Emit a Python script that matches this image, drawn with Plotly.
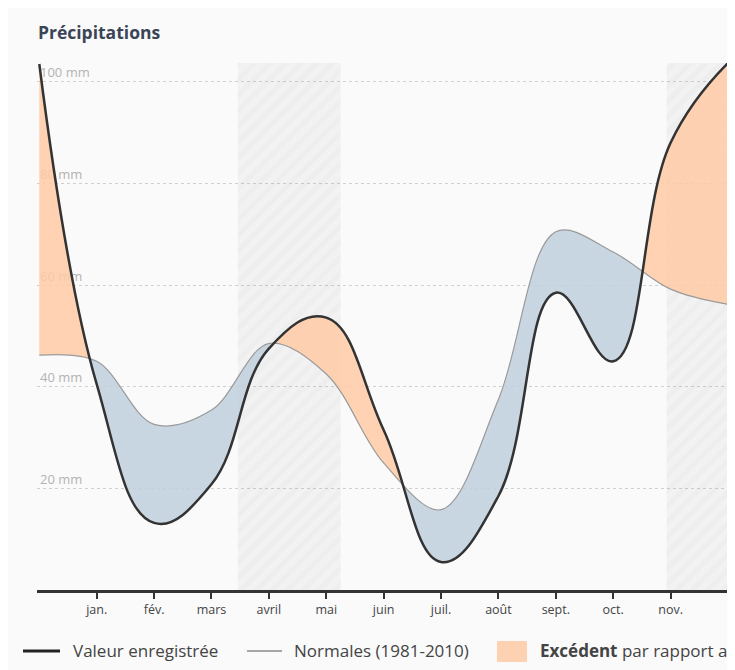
import numpy as np
import plotly.graph_objects as go

# ---------------- data ----------------
months = ["jan.", "fév.", "mars", "avril", "mai", "juin", "juil.", "août",
          "sept.", "oct.", "nov."]
month_pos = list(range(1, 12))
x_pos = list(range(13))          # déc. (précédent) ... déc.
recorded = [103.5, 40.5, 13.2, 20.8, 47.5, 53.6, 31.5, 5.5, 18.5, 58.5, 45.0, 88.0, 103.7]
normals = [46.2, 45.0, 32.6, 35.4, 48.5, 42.5, 25.0, 15.8, 37.5, 70.5, 66.5, 59.2, 56.2]
hatched = [(3.46, 5.25), (10.93, 12.0)]
y_ticks = [20, 40, 60, 80, 100]
y_labels = [f"{v} mm" for v in y_ticks]
y_max = 103.7
x_min, x_max = -0.04, 12.0

# ---------------- layout geometry ----------------
W, H = 727, 662
ML, MR, MT, MB = 29, 7, 55, 80
PW, PH = W - ML - MR, H - MT - MB
SMOOTH_R, SMOOTH_N = 1.2, 1.0

ORANGE = "rgba(255,203,165,0.85)"
BLUE = "rgba(192,208,222,0.85)"
ORANGE_SOLID = "#fdd2b2"
FONT = "Open Sans"


def fx(px):
    return (px - ML) / PW


def fy(py):
    return (H - MB - py) / PH


# --- emulate plotly spline to find where the two curves cross ---
def spline_samples(xs, ys, s=1.0):
    sx = PW / (x_max - x_min)
    sy = PH / y_max
    pts = [((x - x_min) * sx, y * sy) for x, y in zip(xs, ys)]

    def tangent(p0, p1, p2):
        d1x, d1y = p0[0] - p1[0], p0[1] - p1[1]
        d2x, d2y = p2[0] - p1[0], p2[1] - p1[1]
        d1a = (d1x * d1x + d1y * d1y) ** 0.25
        d2a = (d2x * d2x + d2y * d2y) ** 0.25
        numx = (d2a * d2a * d1x - d1a * d1a * d2x) * s
        numy = (d2a * d2a * d1y - d1a * d1a * d2y) * s
        den1 = 3 * d2a * (d1a + d2a)
        den2 = 3 * d1a * (d1a + d2a)
        return ((p1[0] + numx / den1, p1[1] + numy / den1),
                (p1[0] - numx / den2, p1[1] - numy / den2))

    tans = [tangent(pts[i - 1], pts[i], pts[i + 1]) for i in range(1, len(pts) - 1)]
    t = np.linspace(0, 1, 400)[:, None]
    out = []

    def quad(a, b, c):
        a, b, c = map(np.array, (a, b, c))
        return (1 - t) ** 2 * a + 2 * (1 - t) * t * b + t ** 2 * c

    def cub(a, b, c, d):
        a, b, c, d = map(np.array, (a, b, c, d))
        return (1 - t) ** 3 * a + 3 * (1 - t) ** 2 * t * b + 3 * (1 - t) * t ** 2 * c + t ** 3 * d

    out.append(quad(pts[0], tans[0][0], pts[1]))
    for i in range(2, len(pts) - 1):
        out.append(cub(pts[i - 1], tans[i - 2][1], tans[i - 1][0], pts[i]))
    out.append(quad(pts[-2], tans[-1][1], pts[-1]))
    arr = np.vstack(out)
    order = np.argsort(arr[:, 0])
    return arr[order, 0] / sx + x_min, arr[order, 1] / sy


rx, ry = spline_samples(x_pos, recorded, SMOOTH_R)
nx, ny = spline_samples(x_pos, normals, SMOOTH_N)
grid = np.linspace(x_pos[0], x_pos[-1], 4000)
diff = np.interp(grid, rx, ry) - np.interp(grid, nx, ny)
span = x_pos[-1] - x_pos[0]
stops = []
sign = diff[0] > 0
stops.append([0.0, ORANGE if sign else BLUE])
for i in range(1, len(grid)):
    s_now = diff[i] > 0
    if s_now != sign:
        f = (grid[i] - x_pos[0]) / span
        stops.append([f, ORANGE if sign else BLUE])
        stops.append([f, ORANGE if s_now else BLUE])
        sign = s_now
stops.append([1.0, ORANGE if sign else BLUE])

fig = go.Figure()

# hatched periods (underneath)
for a, b in hatched:
    fig.add_trace(go.Scatter(x=[a, b, b, a, a], y=[0, 0, y_max, y_max, 0],
                             mode="lines", fill="toself", line=dict(width=0),
                             fillcolor="rgba(0,0,0,0)",
                             fillpattern=dict(shape="/", size=11, solidity=0.45,
                                              fgcolor="rgba(120,120,120,0.10)",
                                              bgcolor="rgba(120,120,120,0.06)"),
                             hoverinfo="skip", showlegend=False))

# fill between normals and recorded
fig.add_trace(go.Scatter(x=x_pos, y=normals, mode="lines",
                         line=dict(shape="spline", smoothing=SMOOTH_N, width=0,
                                   color="#c9d6e2"),
                         hoverinfo="skip", showlegend=False))
fig.add_trace(go.Scatter(x=x_pos, y=recorded, mode="lines", fill="tonexty",
                         line=dict(shape="spline", smoothing=SMOOTH_R, width=0,
                                   color=ORANGE_SOLID),
                         fillgradient=dict(type="horizontal", colorscale=stops,
                                           start=x_pos[0], stop=x_pos[-1]),
                         hoverinfo="skip", showlegend=False))

# lines
fig.add_trace(go.Scatter(x=x_pos, y=normals, mode="lines",
                         line=dict(shape="spline", smoothing=SMOOTH_N, width=1.2,
                                   color="#9a9a9a"),
                         hoverinfo="skip", showlegend=False))
fig.add_trace(go.Scatter(x=x_pos, y=recorded, mode="lines", cliponaxis=False,
                         line=dict(shape="spline", smoothing=SMOOTH_R, width=2.5,
                                   color="#333333"),
                         hoverinfo="skip", showlegend=False))

shapes = []
annotations = []

# title
annotations.append(dict(text="<b>Précipitations</b>", xref="paper", yref="paper",
                        x=fx(28), y=fy(24), xanchor="left", yanchor="middle",
                        showarrow=False, font=dict(family=FONT, size=17.5, color="#3a4556")))

# legend (custom)
ly = 643
LFS = 17
shapes.append(dict(type="line", xref="paper", yref="paper", x0=fx(15), x1=fx(52),
                   y0=fy(ly), y1=fy(ly), line=dict(color="#222", width=3)))
annotations.append(dict(text="Valeur enregistrée", xref="paper", yref="paper",
                        x=fx(63), y=fy(ly - 1), xanchor="left", yanchor="middle",
                        showarrow=False, font=dict(family=FONT, size=LFS, color="#444")))
shapes.append(dict(type="line", xref="paper", yref="paper", x0=fx(239), x1=fx(274),
                   y0=fy(ly), y1=fy(ly), line=dict(color="#555", width=1)))
annotations.append(dict(text="Normales (1981-2010)", xref="paper", yref="paper",
                        x=fx(284), y=fy(ly - 1), xanchor="left", yanchor="middle",
                        showarrow=False, font=dict(family=FONT, size=LFS, color="#444")))
shapes.append(dict(type="rect", xref="paper", yref="paper", x0=fx(489), x1=fx(519),
                   y0=fy(ly - 10), y1=fy(ly + 11), line=dict(width=0), fillcolor=ORANGE_SOLID))
annotations.append(dict(text="<b>Excédent</b> par rapport aux normales", xref="paper",
                        yref="paper", x=fx(530), y=fy(ly - 1), xanchor="left",
                        yanchor="middle", showarrow=False,
                        font=dict(family=FONT, size=LFS, color="#444")))

fig.update_layout(
    width=W, height=H,
    margin=dict(l=ML, r=MR, t=MT, b=MB),
    paper_bgcolor="#fafafa", plot_bgcolor="#fafafa",
    font=dict(family=FONT, color="#444"),
    shapes=shapes, annotations=annotations,
    xaxis=dict(range=[x_min, x_max], tickvals=month_pos, ticktext=months,
               ticks="outside", ticklen=6, tickwidth=1.5, tickcolor="#333",
               showline=True, linecolor="#333", linewidth=2.5,
               showgrid=False, zeroline=False,
               tickfont=dict(family=FONT, size=12.5, color="#444")),
    yaxis=dict(range=[0, y_max], tickvals=y_ticks, ticktext=y_labels,
               ticklabelposition="inside top", ticks="",
               showgrid=True, gridcolor="#d0d0d0", griddash="dot", gridwidth=1,
               zeroline=False, showline=False, layer="below traces",
               tickfont=dict(family=FONT, size=13, color="#b3b3b3")),
)

fig.write_html("out.html")
